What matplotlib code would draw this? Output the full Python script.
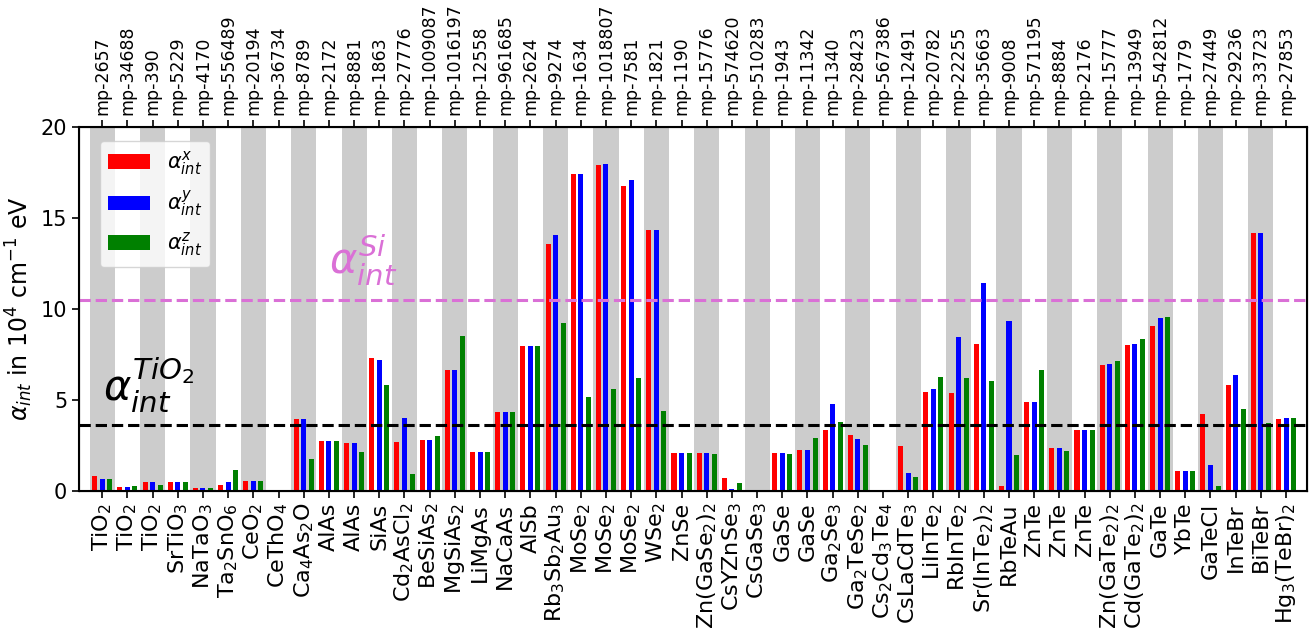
import numpy as np
import matplotlib
matplotlib.use("Agg")
import matplotlib.pyplot as plt

# --- Data ---
compounds = ["TiO$_2$", "TiO$_2$", "TiO$_2$", "SrTiO$_3$", "NaTaO$_3$", "Ta$_2$SnO$_6$", "CeO$_2$",
             "CeThO$_4$", "Ca$_4$As$_2$O", "AlAs", "AlAs", "SiAs", "Cd$_2$AsCl$_2$", "BeSiAs$_2$",
             "MgSiAs$_2$", "LiMgAs", "NaCaAs", "AlSb", "Rb$_3$Sb$_2$Au$_3$", "MoSe$_2$", "MoSe$_2$",
             "MoSe$_2$", "WSe$_2$", "ZnSe", "Zn(GaSe$_2$)$_2$", "CsYZnSe$_3$", "CsGaSe$_3$", "GaSe",
             "GaSe", "Ga$_2$Se$_3$", "Ga$_2$TeSe$_2$", "Cs$_2$Cd$_3$Te$_4$", "CsLaCdTe$_3$",
             "LiInTe$_2$", "RbInTe$_2$", "Sr(InTe$_2$)$_2$", "RbTeAu", "ZnTe", "ZnTe", "ZnTe",
             "Zn(GaTe$_2$)$_2$", "Cd(GaTe$_2$)$_2$", "GaTe", "YbTe", "GaTeCl", "InTeBr", "BiTeBr",
             "Hg$_3$(TeBr)$_2$"]

mp_ids = ["mp-2657", "mp-34688", "mp-390", "mp-5229", "mp-4170", "mp-556489", "mp-20194",
          "mp-36734", "mp-8789", "mp-2172", "mp-8881", "mp-1863", "mp-27776", "mp-1009087",
          "mp-1016197", "mp-12558", "mp-961685", "mp-2624", "mp-9274", "mp-1634", "mp-1018807",
          "mp-7581", "mp-1821", "mp-1190", "mp-15776", "mp-574620", "mp-510283", "mp-1943",
          "mp-11342", "mp-1340", "mp-28423", "mp-567386", "mp-12491", "mp-20782", "mp-22255",
          "mp-35663", "mp-9008", "mp-571195", "mp-8884", "mp-2176", "mp-15777", "mp-13949",
          "mp-542812", "mp-1779", "mp-27449", "mp-29236", "mp-33723", "mp-27853"]

alpha_x = [0.82, 0.22, 0.49, 0.49, 0.16, 0.35, 0.57, 0.0, 3.94, 2.73, 2.66, 7.28, 2.69, 2.82,
           6.64, 2.16, 4.33, 7.96, 13.55, 17.43, 17.91, 16.74, 14.32, 2.09, 2.09, 0.70, 0.0,
           2.09, 2.25, 3.34, 3.08, 0.0, 2.47, 5.44, 5.37, 8.08, 0.27, 4.89, 2.35, 3.37, 6.93,
           8.01, 9.06, 1.12, 4.23, 5.81, 14.19, 3.98]
alpha_y = [0.66, 0.22, 0.49, 0.49, 0.16, 0.49, 0.57, 0.0, 3.94, 2.73, 2.66, 7.20, 4.00, 2.82,
           6.64, 2.16, 4.33, 7.96, 14.06, 17.43, 17.97, 17.09, 14.32, 2.09, 2.09, 0.13, 0.0,
           2.09, 2.25, 4.80, 2.86, 0.0, 0.99, 5.59, 8.45, 11.44, 9.35, 4.89, 2.35, 3.37, 6.97,
           8.05, 9.51, 1.12, 1.43, 6.36, 14.19, 4.01]
alpha_z = [0.66, 0.27, 0.35, 0.49, 0.16, 1.14, 0.57, 0.0, 1.74, 2.73, 2.14, 5.81, 0.92, 3.04,
           8.49, 2.16, 4.33, 7.96, 9.22, 5.15, 5.63, 6.23, 4.40, 2.09, 2.03, 0.44, 0.0,
           2.03, 2.90, 3.78, 2.51, 0.0, 0.77, 6.27, 6.23, 6.05, 1.96, 6.64, 2.20, 3.37, 7.15,
           8.36, 9.57, 1.12, 0.27, 4.51, 3.72, 4.01]

alpha_si = 10.5
alpha_tio2 = 3.65

# --- Plot ---
x = np.arange(len(compounds))
w = 0.2

fig = plt.figure(figsize=(13.13, 6.39), dpi=100)
ax = fig.add_axes([0.0602, 0.2316, 0.9352, 0.5697])

# grey bands behind every other compound
for i in x[::2]:
    ax.axvspan(i - 0.5, i + 0.5, color="0.8", lw=0, zorder=0)

ax.bar(x - 0.3, alpha_x, w, color="red", label=r"$\alpha^x_{int}$", zorder=2)
ax.bar(x, alpha_y, w, color="blue", label=r"$\alpha^y_{int}$", zorder=2)
ax.bar(x + 0.3, alpha_z, w, color="green", label=r"$\alpha^z_{int}$", zorder=2)

ax.axhline(alpha_si, color="orchid", ls="--", lw=2.2, zorder=3)
ax.axhline(alpha_tio2, color="black", ls="--", lw=2.2, zorder=3)
ax.text(9.0, 11.9, r"$\alpha_{int}^{Si}$", color="orchid", fontsize=30, va="baseline")
ax.text(0.05, 4.9, r"$\alpha_{int}^{TiO_2}$", color="black", fontsize=30, va="baseline")

ax.set_xlim(-0.92, 47.83)
ax.set_ylim(0, 20)
ax.set_xticks(x)
ax.set_xticklabels(compounds, rotation=90, fontsize=16)
ax.set_yticks([0, 5, 10, 15, 20])
ax.tick_params(axis="y", labelsize=15)
ax.tick_params(axis="both", width=1.2, length=5)
ax.set_ylabel(r"$\alpha_{int}$ in 10$^4$ cm$^{-1}$ eV", fontsize=17)
for s in ax.spines.values():
    s.set_linewidth(1.5)

ax.legend(loc="upper left", fontsize=15, labelspacing=0.55, borderpad=0.4,
          borderaxespad=0, bbox_to_anchor=(0.0171, 0.9615))

top = ax.twiny()
top.set_xlim(ax.get_xlim())
top.set_xticks(x)
top.set_xticklabels(mp_ids, rotation=90, fontsize=12.5)
top.tick_params(axis="x", width=1.2, length=5)

fig.savefig("out.png", dpi=100)
